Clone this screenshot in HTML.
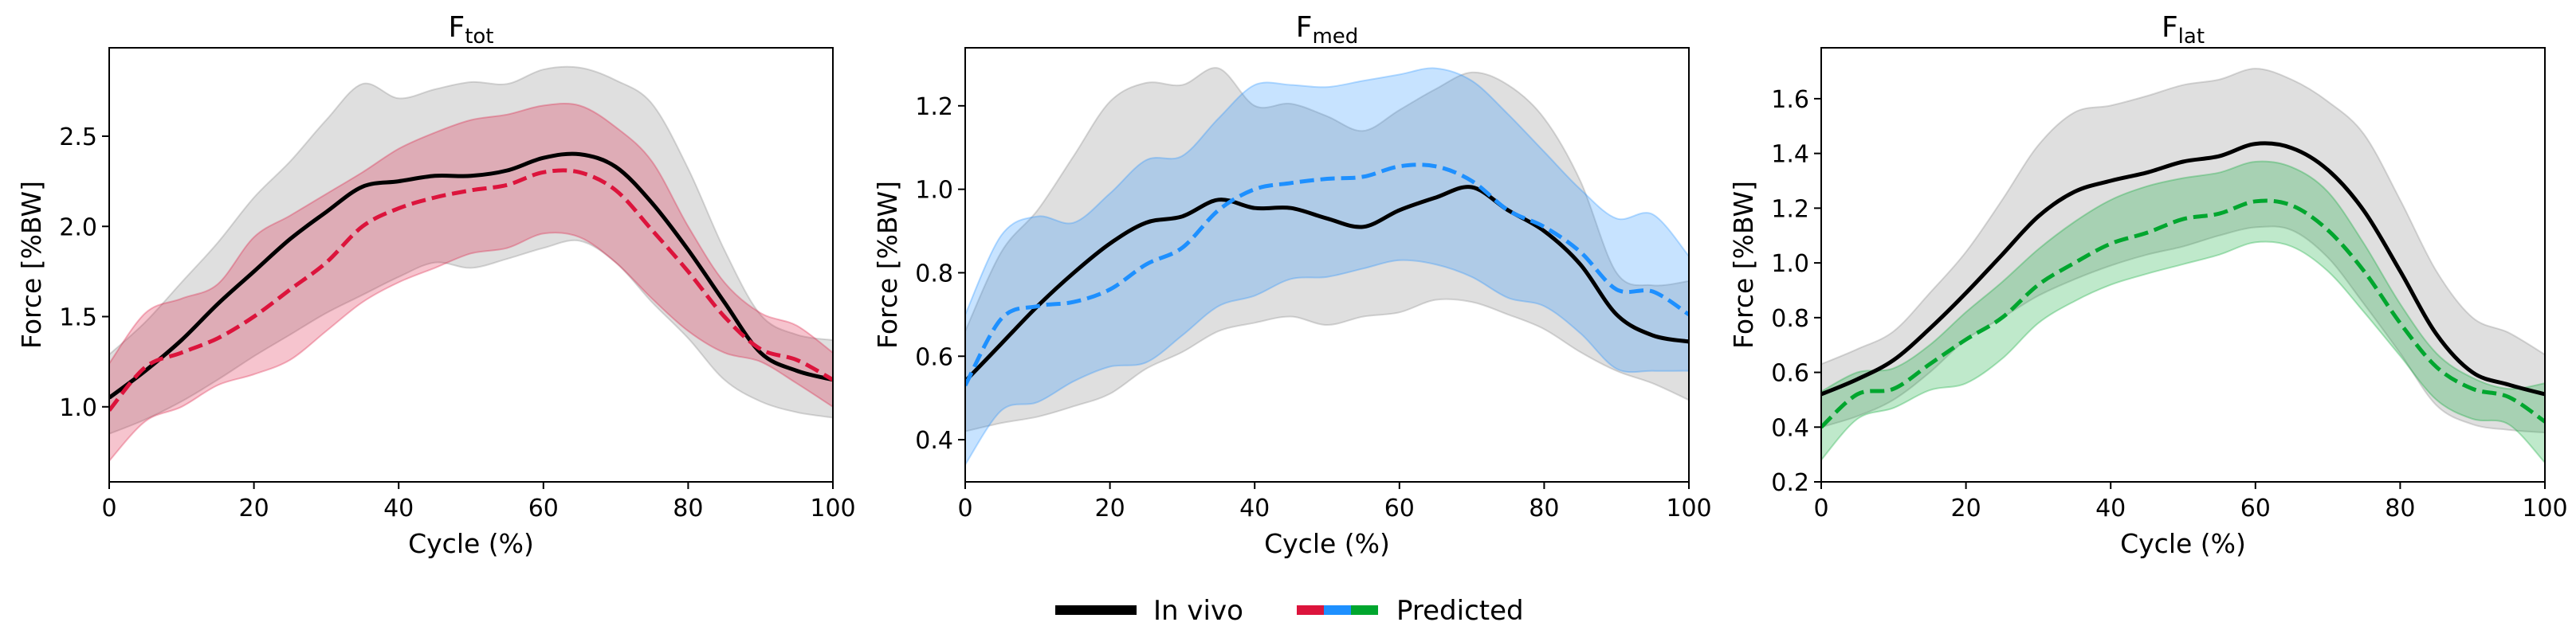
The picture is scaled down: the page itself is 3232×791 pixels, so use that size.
<!DOCTYPE html>
<html><head><meta charset="utf-8"><style>
html,body{margin:0;padding:0;background:#fff;}
svg{display:block;font-family:"DejaVu Sans","Liberation Sans",sans-serif;}
</style></head><body>
<svg id="fig" width="3232" height="791" viewBox="0 0 3232 791">
  <g>
    <rect x="1324" y="760" width="102" height="12" fill="#000"/>
    <text x="1447" y="778" font-size="34">In vivo</text>
    <rect x="1627" y="760" width="34" height="12" fill="#dc143c"/>
    <rect x="1661" y="760" width="34" height="12" fill="#1e90ff"/>
    <rect x="1695" y="760" width="34" height="12" fill="#00a62e"/>
    <text x="1752" y="778" font-size="34">Predicted</text>
  </g>
</svg>
<script>
const cycleX = [0,5,10,15,20,25,30,35,40,45,50,55,60,65,70,75,80,85,90,95,100];

const totVivoMean = [1.05,1.20,1.37,1.57,1.75,1.93,2.08,2.22,2.25,2.28,2.28,2.31,2.38,2.40,2.33,2.13,1.87,1.58,1.30,1.20,1.15];
const totVivoUpper = [1.29,1.47,1.69,1.91,2.16,2.36,2.59,2.79,2.71,2.76,2.80,2.79,2.87,2.88,2.81,2.68,2.32,1.87,1.51,1.40,1.37];
const totVivoLower = [0.85,0.93,1.03,1.15,1.28,1.40,1.52,1.62,1.72,1.80,1.77,1.82,1.88,1.92,1.80,1.58,1.38,1.15,1.03,0.97,0.94];
const totPredMean = [0.98,1.22,1.30,1.38,1.50,1.65,1.80,2.00,2.10,2.16,2.20,2.23,2.30,2.30,2.20,1.98,1.75,1.50,1.32,1.26,1.15];
const totPredUpper = [1.24,1.52,1.60,1.68,1.94,2.06,2.18,2.30,2.43,2.52,2.59,2.62,2.67,2.67,2.55,2.36,2.00,1.69,1.52,1.45,1.30];
const totPredLower = [0.70,0.92,1.00,1.12,1.18,1.26,1.42,1.58,1.69,1.77,1.85,1.88,1.96,1.94,1.80,1.60,1.42,1.30,1.25,1.13,1.00];

const medVivoMean = [0.54,0.63,0.72,0.80,0.87,0.92,0.935,0.975,0.955,0.955,0.93,0.91,0.95,0.98,1.005,0.95,0.90,0.82,0.70,0.65,0.635];
const medVivoUpper = [0.66,0.85,0.95,1.08,1.21,1.255,1.25,1.29,1.20,1.205,1.175,1.14,1.19,1.24,1.28,1.25,1.17,1.02,0.80,0.77,0.78];
const medVivoLower = [0.42,0.44,0.455,0.48,0.51,0.57,0.61,0.66,0.68,0.695,0.675,0.695,0.705,0.735,0.73,0.70,0.665,0.61,0.565,0.535,0.495];
const medPredMean = [0.53,0.69,0.72,0.73,0.76,0.82,0.86,0.95,1.0,1.015,1.025,1.03,1.055,1.055,1.02,0.95,0.91,0.85,0.76,0.755,0.70];
const medPredUpper = [0.70,0.89,0.935,0.92,0.99,1.07,1.08,1.17,1.25,1.25,1.245,1.26,1.275,1.29,1.26,1.18,1.09,1.00,0.93,0.94,0.84];
const medPredLower = [0.34,0.47,0.49,0.54,0.575,0.585,0.65,0.72,0.745,0.785,0.79,0.81,0.83,0.82,0.79,0.74,0.72,0.655,0.57,0.565,0.565];

const latVivoMean = [0.52,0.575,0.645,0.76,0.89,1.03,1.17,1.26,1.30,1.33,1.37,1.39,1.435,1.42,1.34,1.19,0.97,0.74,0.60,0.555,0.52];
const latVivoUpper = [0.63,0.685,0.75,0.89,1.04,1.23,1.43,1.55,1.575,1.61,1.65,1.67,1.71,1.67,1.59,1.47,1.23,0.97,0.80,0.745,0.665];
const latVivoLower = [0.40,0.44,0.50,0.60,0.72,0.80,0.88,0.94,0.99,1.03,1.06,1.10,1.13,1.12,1.02,0.85,0.67,0.48,0.41,0.39,0.38];
const latPredMean = [0.40,0.52,0.54,0.63,0.72,0.80,0.92,1.00,1.07,1.11,1.16,1.18,1.225,1.21,1.12,0.97,0.78,0.62,0.54,0.51,0.42];
const latPredUpper = [0.53,0.60,0.615,0.70,0.82,0.93,1.05,1.15,1.23,1.28,1.31,1.33,1.37,1.35,1.26,1.07,0.85,0.67,0.58,0.54,0.56];
const latPredLower = [0.28,0.43,0.47,0.535,0.56,0.65,0.78,0.86,0.92,0.96,0.995,1.03,1.075,1.06,0.97,0.82,0.66,0.50,0.43,0.41,0.27];

const xTicks = [0,20,40,60,80,100];
const totYTicks = [1.0,1.5,2.0,2.5];
const medYTicks = [0.4,0.6,0.8,1.0,1.2];
const latYTicks = [0.2,0.4,0.6,0.8,1.0,1.2,1.4,1.6];

const NS = 'http://www.w3.org/2000/svg';
const svg = document.getElementById('fig');
function mk(tag, attrs, parent){
  const e = document.createElementNS(NS, tag);
  for (const k in attrs) e.setAttribute(k, attrs[k]);
  (parent||svg).appendChild(e);
  return e;
}
function smoothPts(pts){
  let d = '';
  for (let i=0;i<pts.length-1;i++){
    const p0=pts[Math.max(i-1,0)], p1=pts[i], p2=pts[i+1], p3=pts[Math.min(i+2,pts.length-1)];
    const c1=[p1[0]+(p2[0]-p0[0])/6, p1[1]+(p2[1]-p0[1])/6];
    const c2=[p2[0]-(p3[0]-p1[0])/6, p2[1]-(p3[1]-p1[1])/6];
    d += ' C'+c1[0].toFixed(1)+','+c1[1].toFixed(1)+' '+c2[0].toFixed(1)+','+c2[1].toFixed(1)+' '+p2[0].toFixed(1)+','+p2[1].toFixed(1);
  }
  return d;
}
function linePath(pts){ return 'M'+pts[0][0].toFixed(1)+','+pts[0][1].toFixed(1)+smoothPts(pts); }

const panels = [
  {key:'tot', sub:'tot', left:137, ymin:0.584, ymax:2.99, yTicks:totYTicks, fmt:1,
   vm:totVivoMean, vu:totVivoUpper, vl:totVivoLower, pm:totPredMean, pu:totPredUpper, pl:totPredLower,
   color:'#dc143c'},
  {key:'med', sub:'med', left:1211, ymin:0.299, ymax:1.339, yTicks:medYTicks, fmt:1,
   vm:medVivoMean, vu:medVivoUpper, vl:medVivoLower, pm:medPredMean, pu:medPredUpper, pl:medPredLower,
   color:'#1e90ff'},
  {key:'lat', sub:'lat', left:2285, ymin:0.2, ymax:1.786, yTicks:latYTicks, fmt:1,
   vm:latVivoMean, vu:latVivoUpper, vl:latVivoLower, pm:latPredMean, pu:latPredUpper, pl:latPredLower,
   color:'#00a62e'}
];
const TOP=60, BOT=605, W=908;

panels.forEach(p=>{
  const g = mk('g', {});
  
  
  const xs = v => p.left + v/100*W;
  const ys = v => BOT - (v - p.ymin)/(p.ymax - p.ymin)*(BOT-TOP);
  const clipId = 'clip-' + p.key;
  const cp = mk('clipPath', {id: clipId}, g);
  mk('rect', {x:p.left, y:TOP, width:W, height:BOT-TOP}, cp);
  const plot = mk('g', {'clip-path':'url(#'+clipId+')'}, g);

  function band(up, lo, fill, stroke, name){
    const upPts = cycleX.map((x,i)=>[xs(x), ys(up[i])]);
    const loPts = cycleX.map((x,i)=>[xs(x), ys(lo[i])]).reverse();
    const d = linePath(upPts) + ' L' + loPts[0][0].toFixed(1)+','+loPts[0][1].toFixed(1) + smoothPts(loPts) + ' Z';
    const e = mk('path', {d:d, fill:fill, 'fill-opacity':0.25, stroke:stroke, 'stroke-opacity':0.3, 'stroke-width':2}, plot);
    
    
  }
  band(p.vu, p.vl, '#808080', '#808080', 'in-vivo-band-' + p.key);
  band(p.pu, p.pl, p.color, p.color, 'predicted-band-' + p.key);

  const vl = mk('path', {d:linePath(cycleX.map((x,i)=>[xs(x), ys(p.vm[i])])), fill:'none', stroke:'#000', 'stroke-width':5, 'stroke-linejoin':'round'}, plot);
  
  
  const pl = mk('path', {d:linePath(cycleX.map((x,i)=>[xs(x), ys(p.pm[i])])), fill:'none', stroke:p.color, 'stroke-width':5, 'stroke-dasharray':'18,8'}, plot);
  
  

  const frame = mk('rect', {x:p.left, y:TOP, width:W, height:BOT-TOP, fill:'none', stroke:'#000', 'stroke-width':2}, g);
  
  

  xTicks.forEach(t=>{
    const x = xs(t);
    mk('line', {x1:x, x2:x, y1:BOT, y2:BOT+9, stroke:'#000', 'stroke-width':2}, g);
    const tx = mk('text', {x:x, y:648, 'font-size':30, 'text-anchor':'middle'}, g);
    tx.textContent = t;
    
    
  });
  p.yTicks.forEach(t=>{
    const y = ys(t);
    mk('line', {x1:p.left-9, x2:p.left, y1:y, y2:y, stroke:'#000', 'stroke-width':2}, g);
    const tx = mk('text', {x:p.left-15, y:y+11, 'font-size':30, 'text-anchor':'end'}, g);
    tx.textContent = t.toFixed(p.fmt);
    
    
  });
  const xl = mk('text', {x:p.left+W/2, y:694, 'font-size':33, 'text-anchor':'middle'}, g);
  xl.textContent = 'Cycle (%)';
  
  
  const yl = mk('text', {x:0, y:0, 'font-size':33, 'text-anchor':'middle', transform:'translate('+(p.left-86)+','+((TOP+BOT)/2)+') rotate(-90)'}, g);
  yl.textContent = 'Force [%BW]';
  
  
  const tt = mk('text', {x:p.left+W/2, y:46, 'font-size':36, 'text-anchor':'middle'}, g);
  
  
  const t1 = mk('tspan', {}, tt); t1.textContent = 'F';
  const t2 = mk('tspan', {'font-size':26, dy:8}, tt); t2.textContent = p.sub;
});
</script>
</body></html>
